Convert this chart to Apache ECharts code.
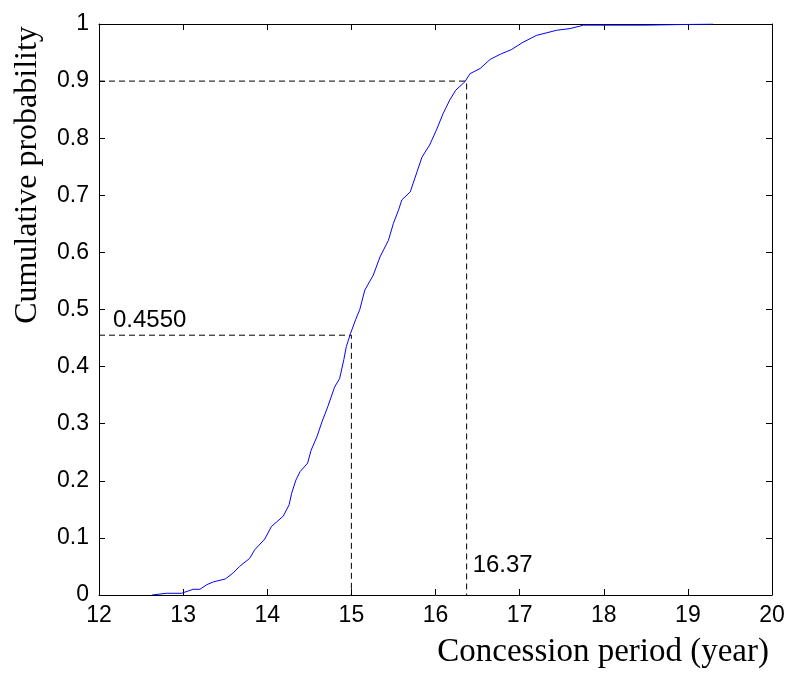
<!DOCTYPE html>
<html>
<head>
<meta charset="utf-8">
<script src="https://cdn.jsdelivr.net/npm/echarts@6/dist/echarts.min.js"></script>
<style>
html,body{margin:0;padding:0;background:#fff;}
#c{width:789px;height:675px;}
</style>
</head>
<body>
<div id="c"></div>
<script>
var cdfX = [12.63, 12.80, 12.98, 13.00, 13.12, 13.20, 13.28, 13.36, 13.50, 13.59, 13.67, 13.79, 13.85, 13.97, 14.05, 14.19, 14.26, 14.29, 14.34, 14.39, 14.48, 14.52, 14.59, 14.65, 14.72, 14.80, 14.86, 14.91, 14.94, 14.99, 15.05, 15.10, 15.16, 15.26, 15.34, 15.44, 15.50, 15.56, 15.60, 15.70, 15.78, 15.84, 15.93, 16.01, 16.09, 16.17, 16.24, 16.35, 16.41, 16.53, 16.65, 16.77, 16.90, 17.04, 17.20, 17.44, 17.60, 17.76, 18.49, 18.49, 19.30];
var cdfY = [0, 0.003, 0.003, 0.006, 0.010, 0.010, 0.018, 0.023, 0.028, 0.038, 0.050, 0.064, 0.079, 0.098, 0.120, 0.138, 0.158, 0.178, 0.201, 0.216, 0.231, 0.253, 0.277, 0.303, 0.330, 0.364, 0.379, 0.412, 0.435, 0.458, 0.482, 0.500, 0.534, 0.560, 0.592, 0.621, 0.651, 0.674, 0.692, 0.706, 0.741, 0.767, 0.788, 0.814, 0.843, 0.867, 0.884, 0.899, 0.913, 0.922, 0.938, 0.947, 0.955, 0.968, 0.980, 0.989, 0.992, 0.998, 0.998, 1.0, 1.0];

// Reference guide values
var medianX = 15;        // x where vertical dashed line drops
var medianP = 0.4550;    // probability at x = 15
var p90 = 0.9;           // 90% probability
var p90X = 16.37;        // period at 90%

// Axis ticks
var xMin = 12, xMax = 20, xStep = 1;
var yMin = 0, yMax = 1, yStep = 0.1;

var xTitle = 'Concession period (year)';
var yTitle = 'Cumulative probability';

var curve = cdfX.map(function (x, i) { return [x, cdfY[i]]; });
var guide1 = [[xMin, medianP], [medianX, medianP], [medianX, 0]];
var guide2 = [[xMin, p90], [p90X, p90], [p90X, 0]];

function axisBase(pos, isX, showLabel) {
  return {
    type: 'value',
    position: pos,
    min: isX ? xMin : yMin,
    max: isX ? xMax : yMax,
    interval: isX ? xStep : yStep,
    axisLine: { show: true, onZero: false, lineStyle: { color: '#000', width: 1 } },
    axisTick: { show: true, inside: true, length: 6, lineStyle: { color: '#000', width: 1 } },
    axisLabel: showLabel ? {
      show: true,
      margin: isX ? 9 : 10,
      fontFamily: 'Liberation Sans', fontSize: 23, color: '#000',
      formatter: function (v) { return String(+v.toFixed(1)); }
    } : { show: false },
    splitLine: { show: false }
  };
}

var chart = echarts.init(document.getElementById('c'), null, { renderer: 'canvas' });
chart.setOption({
  animation: false,
  backgroundColor: '#fff',
  grid: { left: 99, right: 17, top: 24, bottom: 80, containLabel: false },
  xAxis: [axisBase('bottom', true, true), axisBase('top', true, false)],
  yAxis: [axisBase('left', false, true), axisBase('right', false, false)],
  graphic: [
    {
      type: 'text', x: 769, y: 652,
      style: { text: xTitle, font: '33px "Liberation Serif"', fill: '#000', align: 'right', verticalAlign: 'middle' }
    },
    {
      type: 'text', x: 28, y: 175, rotation: Math.PI / 2,
      style: { text: yTitle, font: '32px "Liberation Serif"', fill: '#000', align: 'center', verticalAlign: 'middle' }
    }
  ],
  series: [
    {
      type: 'line', data: guide1, showSymbol: false, symbol: 'none',
      lineStyle: { color: '#000', width: 1, type: [6, 4] }, z: 2
    },
    {
      type: 'line', data: guide2, showSymbol: false, symbol: 'none',
      lineStyle: { color: '#000', width: 1, type: [6, 4] }, z: 2
    },
    {
      type: 'line', data: curve, showSymbol: false, symbol: 'none',
      lineStyle: { color: '#0000ff', width: 1 }, z: 3
    },
    {
      type: 'scatter', symbolSize: 0, z: 4,
      itemStyle: { opacity: 1, color: '#000' },
      data: [
        { value: [xMin, medianP], label: { formatter: medianP.toFixed(4), offset: [14, -15] } },
        { value: [p90X, 0], label: { formatter: p90X.toFixed(2), offset: [6, -30] } }
      ],
      label: {
        show: true, position: 'inside', align: 'left', verticalAlign: 'middle', opacity: 1,
        fontFamily: 'Liberation Sans', fontSize: 24, color: '#000'
      }
    }
  ]
});
</script>
</body>
</html>
